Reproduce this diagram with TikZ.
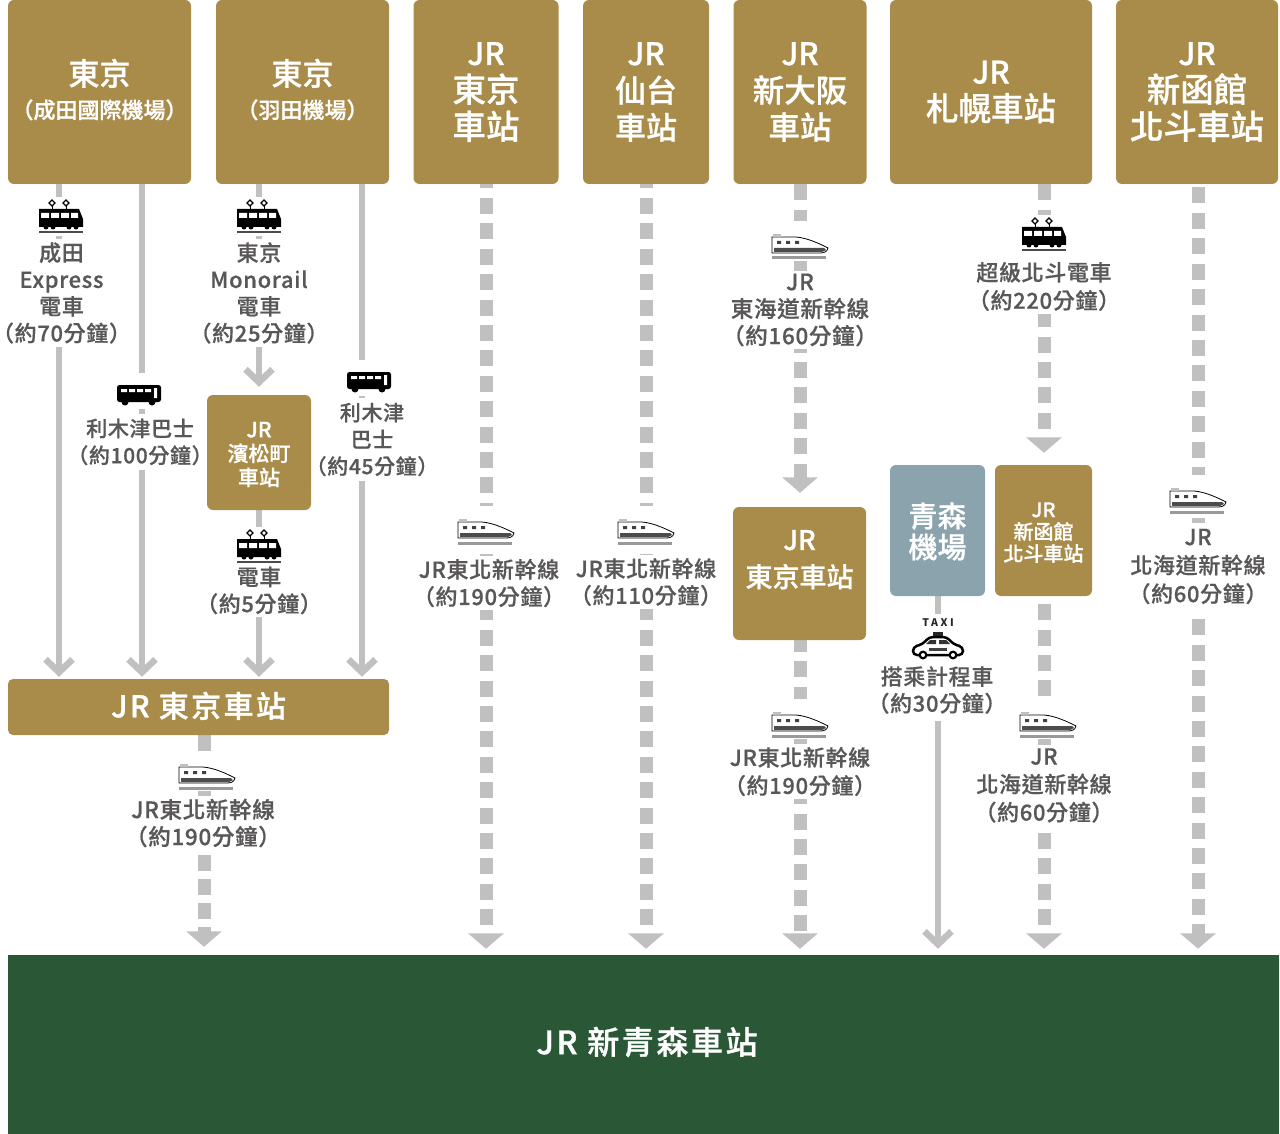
\documentclass[tikz,border=0pt]{standalone}
\usepackage{fontspec}
\usetikzlibrary{arrows.meta, backgrounds}
\setmainfont{Noto Sans CJK TC}
\newfontfamily\medfont{Noto Sans CJK TC Medium}[LetterSpace=3, FakeBold=0.5]
\newfontfamily\boxfont{Noto Sans CJK TC Medium}[FakeBold=0.8]
\newfontfamily\widefont{Noto Sans CJK TC Medium}[LetterSpace=8, FakeBold=1.1]
\newcommand{\lblsize}[2]{\medfont\fontsize{#1}{#2}\selectfont}
\newcommand{\boxsize}[2]{\boxfont\fontsize{#1}{#2}\selectfont}
\newcommand{\jrline}{{\fontsize{31}{37}\selectfont JR}}
\definecolor{gold}{HTML}{A98C4A}
\definecolor{airport}{HTML}{8AA3AD}
\definecolor{pine}{HTML}{2A5735}
\definecolor{rail}{HTML}{C0C0C0}
\definecolor{ink}{HTML}{595757}
\tikzset{
    base/.style={text centered, align=center, inner sep=0pt},
    goldbox/.style={base, rectangle, rounded corners=6pt, fill=gold, text=white, font=\boxsize{31}{37}},
    midbox/.style={goldbox, font=\boxsize{27}{37}},
    smallbox/.style={goldbox, font=\boxsize{21}{24}},
    label/.style={base, fill=white, text=ink, inner xsep=2pt, inner ysep=3pt, font=\lblsize{22}{26.8}},
    solidline/.style={draw=rail, line width=6.5pt, -{Straight Barb[length=13pt, width=27pt]}},
    railline/.style={draw=rail, line width=13pt, dash pattern=on 16pt off 9.4pt, -{Triangle[length=15.5pt, width=35pt]}},
    tram/.pic={
        \fill[white] (-24,-21) rectangle (24,18);
        \foreach \px in {-9,5} {
            \draw[line width=1.2pt] (\px,-18) -- (\px+3,-15) -- (\px,-12) -- (\px-3,-15) -- cycle;
            \draw[line width=1pt] (\px,-12) -- (\px,-9);
        }
        \fill[black] (-22,-9) -- (18,-9) -- (22,1) -- (22,9) -- (-22,9) -- cycle;
        \fill[white] (-20,-5) rectangle (-12,0) (-10,-5) rectangle (-2,0) (0,-5) rectangle (8,0) (10,-5) rectangle (17,0);
        \fill[black] (-15,9) circle (2.5pt) (-8,9) circle (2.5pt) (8,9) circle (2.5pt) (15,9) circle (2.5pt);
        \draw[black!70, line width=1.8pt] (-22,14) -- (22,14);
    },
    bullet/.pic={
        \fill[white] (-30,-24) rectangle (30,16);
        \draw[fill=white, line width=.8pt] (-28,-8) -- (-4,-8) .. controls (8,-7) and (20,-1) .. (28,3) .. controls (27,7) and (24,8) .. (20,8) -- (-28,8) -- cycle;
        \fill[black!25] (-27,-11) rectangle (-19,-8);
        \fill[black!70] (-26,3) -- (24,3) -- (26,5) -- (22,7) -- (-26,7) -- cycle;
        \fill[black!75] (-23,-4) rectangle (-19,-1) (-14,-4) rectangle (-10,-1) (-5,-4) rectangle (-1,-1);
        \draw[black!40, line width=3pt] (-28,13) -- (26,13);
    },
    coach/.pic={
        \fill[white] (-24,-22) rectangle (24,14);
        \fill[black, rounded corners=2.5pt] (-22,-10) rectangle (22,7);
        \fill[black] (-14,7) circle (3.5pt) (13,7) circle (3.5pt);
        \fill[white] (-18,-6) rectangle (-12,-3) (-10,-6) rectangle (-4,-3) (-2,-6) rectangle (4,-3) (6,-6) rectangle (12,-3) (15,-7) rectangle (18,3);
    },
    cab/.pic={
        \fill[white] (-28,-31) rectangle (28,15);
        \fill[black!85] (-5,-13) rectangle (5,-8);
        \draw[fill=white, line width=2.5pt, rounded corners=4pt] (-25,10) -- (-25,2) -- (-15,-1) -- (-9,-8) -- (9,-8) -- (15,-1) -- (25,2) -- (25,10) -- cycle;
        \fill[black!80] (-8,-5) -- (-2,-5) -- (-2,-1) -- (-12,-1) -- cycle (1,-5) -- (8,-5) -- (12,-1) -- (1,-1) -- cycle;
        \fill[black!75] (-9,3) rectangle (9,6);
        \fill[black] (-15,10) circle (4.5pt) (15,10) circle (4.5pt);
        \fill[white] (-15,10) circle (2pt) (15,10) circle (2pt);
    }
}
\begin{document}
\begin{tikzpicture}[x=1pt, y=-1pt]
        \useasboundingbox (0,0) rectangle (1280,1134);

        % Labels
        \node (lbnarita) [label, inner xsep=0pt] at (61.5,293) {成田\\Express\\電車\\{\addfontfeature{RawFeature=+halt}（約70分鐘）}};
        \node (lbbusa) [label, inner ysep=5pt, font=\lblsize{21}{26.8}] at (140,442) {利木津巴士\\（約100分鐘）};
        \node (lbmono) [label] at (259,293) {東京\\Monorail\\電車\\（約25分鐘）};
        \node (lbbusb) [label, inner ysep=5pt, font=\lblsize{21}{26.8}] at (372,439.5) {利木津\\巴士\\（約45分鐘）};
        \node (lbdensha) [label] at (259,590.5) {電車\\（約5分鐘）};
        \node (lbbar) [label, font=\lblsize{22.5}{27}] at (203,823) {JR東北新幹線\\（約190分鐘）};
        \node (lbtokyo) [label, font=\lblsize{22}{27.2}] at (489,583) {JR東北新幹線\\（約190分鐘）};
        \node (lbsendai) [label] at (646,582) {JR東北新幹線\\（約110分鐘）};
        \node (lbtokaido) [label, font=\lblsize{22.5}{27}] at (800,310) {JR\\東海道新幹線\\（約160分鐘）};
        \node (lbmid) [label, font=\lblsize{22}{28}] at (800,771.5) {JR東北新幹線\\（約190分鐘）};
        \node (lbsuper) [label, font=\lblsize{22}{28}] at (1044,286.5) {超級北斗電車\\（約220分鐘）};
        \node (lbtaxi) [label, inner ysep=7pt] at (937,690) {搭乘計程車\\（約30分鐘）};
        \node (lbhokuto) [label, font=\lblsize{22}{28}] at (1044,785.5) {JR\\北海道新幹線\\（約60分鐘）};
        \node (lbhakodate) [label, inner ysep=6pt, font=\lblsize{22}{28.5}] at (1198,566.5) {JR\\北海道新幹線\\（約60分鐘）};

        % Icons
        \pic at (61,218) {tram};
        \pic at (259,218) {tram};
        \pic at (259,548) {tram};
        \pic at (1044,236) {tram};
        \pic at (139,395) {coach};
        \pic at (369,382) {coach};
        \pic at (207,775) {bullet};
        \pic at (486,530) {bullet};
        \pic at (646,530) {bullet};
        \pic at (800,245) {bullet};
        \pic at (800,723) {bullet};
        \pic at (1048,723) {bullet};
        \pic at (1198,499) {bullet};
        \pic at (938,645) {cab};
        \node (taxi) [base, text=black!85, font=\bfseries\fontsize{10.5}{12}\selectfont] at (938,623) {\addfontfeature{LetterSpace=25}TAXI};

        % Departure stations
        \node (narita) [goldbox, minimum width=183pt, minimum height=184pt, text depth=7pt] at (99.5,92) {東京\\[-4pt]{\fontsize{22}{26}\selectfont （成田國際機場）}};
        \node (haneda) [goldbox, minimum width=173pt, minimum height=184pt, text depth=7pt] at (302.5,92) {東京\\[-4pt]{\fontsize{22}{26}\selectfont （羽田機場）}};
        \node (tokyo) [goldbox, minimum width=145pt, minimum height=184pt, font=\boxsize{33.5}{37}] at (486,92) {\jrline\\東京\\車站};
        \node (sendai) [goldbox, minimum width=126pt, minimum height=184pt] at (646,92) {JR\\仙台\\車站};
        \node (osaka) [goldbox, minimum width=133pt, minimum height=184pt, font=\boxsize{31.5}{37}] at (800,92) {\jrline\\新大阪\\車站};
        \node (sapporo) [goldbox, minimum width=202pt, minimum height=184pt, font=\boxsize{32.5}{37}] at (991,92) {\jrline\\札幌車站};
        \node (hakodate) [goldbox, minimum width=162pt, minimum height=184pt, font=\boxsize{33.5}{37}] at (1197,92) {\jrline\\新函館\\北斗車站};

        % Transfer stations
        \node (hamamatsu) [smallbox, minimum width=104pt, minimum height=115pt, text height=67.5pt] at (259,452.5) {JR\\濱松町\\車站};
        \node (tokyobar) [goldbox, rounded corners=5pt, minimum width=381pt, minimum height=56pt, font=\widefont\fontsize{30}{34}\selectfont, text depth=5pt] at (198.5,707) {JR 東京車站};
        \node (tokyomid) [midbox, minimum width=133pt, minimum height=133pt, text depth=30pt] at (799.5,573.5) {JR\\東京車站};
        \node (aomoriair) [goldbox, fill=airport, minimum width=95pt, minimum height=131pt, font=\boxsize{29}{31}, text height=57.5pt] at (937.5,530.5) {青森\\機場};
        \node (hokuto) [smallbox, minimum width=97pt, minimum height=131pt, font=\boxsize{20}{22}, text height=63pt] at (1043.5,530.5) {JR\\新函館\\北斗車站};

        % Arrival
        \node (shinaomori) [base, rectangle, fill=pine, text=white, minimum width=1271pt, minimum height=179pt, font=\widefont\fontsize{32}{38}\selectfont, text depth=8pt] at (643.5,1044.5) {\hspace*{7pt}JR 新青森車站};

        % Connectors
        \begin{scope}[on background layer]
            \draw [solidline, shorten >=2pt] (59,0 |- narita.south) -- (59,0 |- tokyobar.north);
            \draw [solidline, shorten >=2pt] (142,0 |- narita.south) -- (142,0 |- tokyobar.north);
            \draw [solidline, shorten >=8pt] (259,0 |- haneda.south) -- (hamamatsu.north);
            \draw [solidline, shorten >=2pt] (hamamatsu.south) -- (259,0 |- tokyobar.north);
            \draw [solidline, shorten >=2pt] (362,0 |- haneda.south) -- (362,0 |- tokyobar.north);
            \draw [railline, dash pattern=on 15.5pt off 8.5pt, shorten >=8pt] (204,0 |- tokyobar.south) -- (204,0 |- shinaomori.north);
            \draw [railline, dash phase=11.7pt, shorten >=6pt] (tokyo.south) -- (486,0 |- shinaomori.north);
            \draw [railline, dash phase=11.7pt, shorten >=6pt] (sendai.south) -- (646,0 |- shinaomori.north);
            \draw [railline, shorten >=14pt] (osaka.south) -- (800,0 |- tokyomid.north);
            \draw [railline, dash phase=4.4pt, shorten >=6pt] (800,0 |- tokyomid.south) -- (800,0 |- shinaomori.north);
            \draw [railline, shorten >=12pt] (1044,0 |- sapporo.south) -- (1044,0 |- hokuto.north);
            \draw [railline, dash phase=17.4pt, shorten >=6pt] (1044,0 |- hokuto.south) -- (1044,0 |- shinaomori.north);
            \draw [railline, dash phase=22.1pt, shorten >=6pt] (1198,0 |- hakodate.south) -- (1198,0 |- shinaomori.north);
            \draw [solidline, shorten >=6pt] (938,0 |- aomoriair.south) -- (938,0 |- shinaomori.north);
        \end{scope}
    \end{tikzpicture}
\end{document}
